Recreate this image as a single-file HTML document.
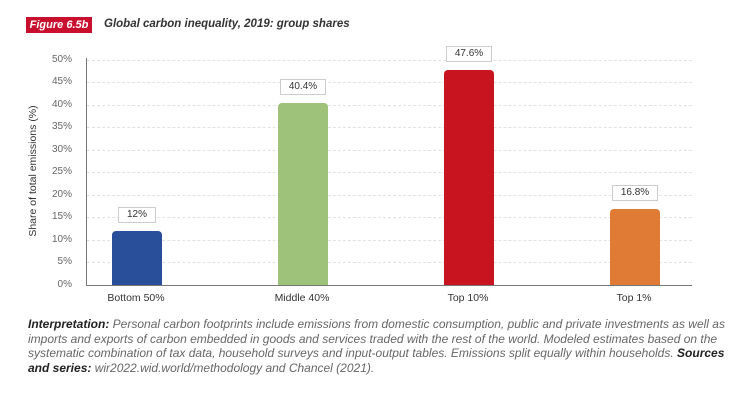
<!DOCTYPE html>
<html><head><style>
body{margin:0;width:750px;height:402px;background:#fff;font-family:"Liberation Sans",sans-serif;position:relative;overflow:hidden}
.a{position:absolute}
.yl{position:absolute;left:40px;width:32px;text-align:right;font-size:10px;color:#666}
.g{position:absolute;left:87px;width:605px;height:0;border-top:1px dashed #e2e2e2}
.bar{position:absolute;width:50px;border-radius:4px 4px 0 0}
.lb{position:absolute;width:50px;height:14px;border:1px solid #ccc;font-size:10px;text-align:center;line-height:14px;color:#333;background:#fff}
.xl{position:absolute;width:120px;text-align:center;font-size:10.5px;color:#333;top:292px}
.p{position:absolute;left:28px;width:720px;font-size:12px;font-style:italic;color:#666;line-height:14.5px;top:317px;white-space:nowrap}
.p b{color:#222}
</style></head><body>
<div class="a" style="left:26px;top:17px;width:66px;height:16px;background:#c8102e;color:#fff;font-style:italic;font-weight:bold;font-size:11px;line-height:16px;text-align:center">Figure 6.5b</div>
<div class="a" style="left:104px;top:18px;font-style:italic;font-weight:bold;font-size:11.5px;color:#333">Global carbon inequality, 2019: group shares</div>
<div class="yl" style="top:54px">50%</div><div class="yl" style="top:76px">45%</div><div class="yl" style="top:99px">40%</div><div class="yl" style="top:121px">35%</div><div class="yl" style="top:144px">30%</div><div class="yl" style="top:166px">25%</div><div class="yl" style="top:189px">20%</div><div class="yl" style="top:211px">15%</div><div class="yl" style="top:234px">10%</div><div class="yl" style="top:256px">5%</div><div class="yl" style="top:279px">0%</div>
<div class="g" style="top:60px"></div><div class="g" style="top:82px"></div><div class="g" style="top:105px"></div><div class="g" style="top:127px"></div><div class="g" style="top:150px"></div><div class="g" style="top:172px"></div><div class="g" style="top:195px"></div><div class="g" style="top:217px"></div><div class="g" style="top:240px"></div><div class="g" style="top:262px"></div>
<div class="a" style="left:86px;top:58px;width:1px;height:228px;background:#777"></div>
<div class="a" style="left:86px;top:285px;width:606px;height:1px;background:#777"></div>
<div class="a" style="left:-47px;top:165px;width:160px;text-align:center;transform:rotate(-90deg);font-size:10.5px;color:#333;white-space:nowrap">Share of total emissions (%)</div>
<div class="bar" style="left:112px;top:231px;height:54px;background:#2a4f9a"></div>
<div class="bar" style="left:278px;top:103px;height:182px;background:#9ec27a"></div>
<div class="bar" style="left:444px;top:70px;height:215px;background:#c8141e"></div>
<div class="bar" style="left:610px;top:209px;height:76px;background:#e07b36"></div>
<div class="lb" style="left:118px;top:207px;width:36px">12%</div>
<div class="lb" style="left:280px;top:79px;width:44px">40.4%</div>
<div class="lb" style="left:446px;top:46px;width:44px">47.6%</div>
<div class="lb" style="left:612px;top:185px;width:44px">16.8%</div>
<div class="xl" style="left:76px">Bottom 50%</div>
<div class="xl" style="left:242px">Middle 40%</div>
<div class="xl" style="left:408px">Top 10%</div>
<div class="xl" style="left:574px">Top 1%</div>
<div class="p"><b>Interpretation:</b> Personal carbon footprints include emissions from domestic consumption, public and private investments as well as<br>imports and exports of carbon embedded in goods and services traded with the rest of the world. Modeled estimates based on the<br>systematic combination of tax data, household surveys and input-output tables. Emissions split equally within households. <b>Sources</b><br><b>and series:</b> wir2022.wid.world/methodology and Chancel (2021).</div>
</body></html>
